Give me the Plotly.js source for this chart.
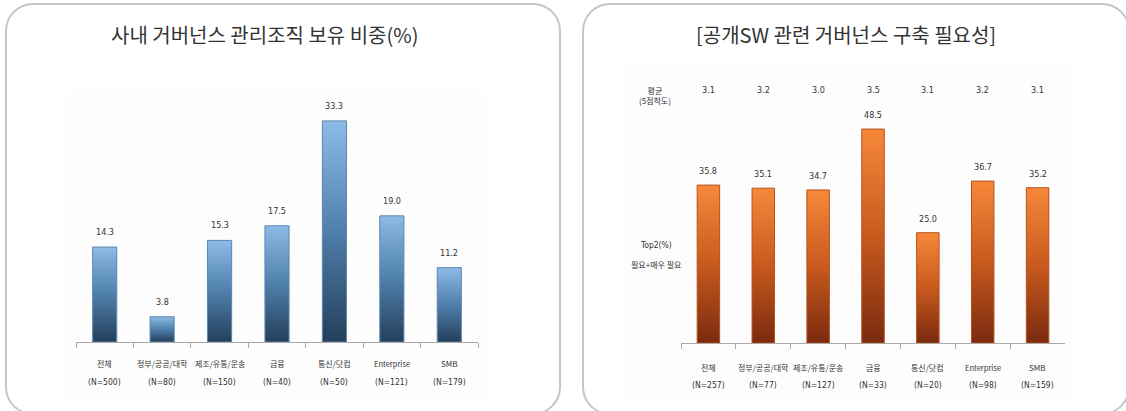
<!DOCTYPE html>
<html>
<head>
<meta charset="utf-8">
<script src="https://cdn.plot.ly/plotly-3.0.1.min.js"></script>
<style>
  html, body { margin:0; padding:0; width:1126px; height:411px; overflow:hidden; background:#ffffff; }
  .panel { position:absolute; box-sizing:border-box; border:2px solid #c6c6c6; border-radius:28px; background:#ffffff; }
  #chart { position:absolute; left:0; top:0; width:1126px; height:411px; }
</style>
</head>
<body>
<div class="panel" style="left:5px; top:3px; width:556px; height:412px;"></div>
<div class="panel" style="left:582px; top:3px; width:548px; height:412px;"></div>
<div id="chart"></div>
<script>
// ---- data ----
const categories = ['전체', '정부/공공/대학', '제조/유통/운송', '금융', '통신/닷컴', 'Enterprise', 'SMB'];
const leftN = ['(N=500)', '(N=80)', '(N=150)', '(N=40)', '(N=50)', '(N=121)', '(N=179)'];
const leftValues = [14.3, 3.8, 15.3, 17.5, 33.3, 19.0, 11.2];
const rightN = ['(N=257)', '(N=77)', '(N=127)', '(N=33)', '(N=20)', '(N=98)', '(N=159)'];
const rightValues = [35.8, 35.1, 34.7, 48.5, 25.0, 36.7, 35.2];
const rightAverages = [3.1, 3.2, 3.0, 3.5, 3.1, 3.2, 3.1];
const leftTitle = '사내 거버넌스 관리조직 보유 비중(%)';
const rightTitle = '[공개SW 관련 거버넌스 구축 필요성]';
const avgLabel = '평균<br>(5점척도)';
const top2Label = 'Top2(%)';
const top2Sub = '필요+매우 필요';

// ---- helpers ----
const W = 1126, H = 411;
const py = p => 1 - p / H;
const px = p => p / W;
const KR = '"Noto Sans CJK KR", "Noto Sans", sans-serif';
const NARROW = '"Liberation Sans Narrow", "DejaVu Sans Condensed", "Liberation Sans", sans-serif';
const fmt = v => v.toFixed(1);

const traces = [
  { type:'bar', x:categories, y:leftValues, xaxis:'x', yaxis:'y', width:0.42,
    marker:{ color:'#4f7fab', line:{ color:'#5d86ad', width:1 } }, hoverinfo:'skip' },
  { type:'bar', x:categories, y:rightValues, xaxis:'x2', yaxis:'y2', width:0.41,
    marker:{ color:'#c85a1e', line:{ color:'#b4511c', width:1 } }, hoverinfo:'skip' }
];

const annotations = [];
// titles
annotations.push({ text:leftTitle, xref:'paper', yref:'paper', x:px(264), y:py(34), xanchor:'center', yanchor:'middle',
  showarrow:false, font:{ family:KR, size:20, color:'#333333' } });
annotations.push({ text:rightTitle, xref:'paper', yref:'paper', x:px(846), y:py(34), xanchor:'center', yanchor:'middle',
  showarrow:false, font:{ family:KR, size:20, color:'#333333' } });

categories.forEach((c, i) => {
  const catSize = c === 'Enterprise' ? 7.5 : 8;
  // left value labels
  annotations.push({ text:fmt(leftValues[i]), xref:'x', yref:'y', x:c, y:leftValues[i], yshift:15,
    xanchor:'center', yanchor:'middle', showarrow:false, font:{ family:NARROW, size:9, color:'#333333' } });
  // left category labels
  annotations.push({ text:c, xref:'x', yref:'paper', x:c, y:py(363), xanchor:'center', yanchor:'middle',
    showarrow:false, font:{ family:KR, size:catSize, color:'#333333' } });
  annotations.push({ text:leftN[i], xref:'x', yref:'paper', x:c, y:py(382), xanchor:'center', yanchor:'middle',
    showarrow:false, font:{ family:NARROW, size:8.5, color:'#333333' } });
  // right value labels
  annotations.push({ text:fmt(rightValues[i]), xref:'x2', yref:'y2', x:c, y:rightValues[i], yshift:14,
    xanchor:'center', yanchor:'middle', showarrow:false, font:{ family:NARROW, size:9, color:'#333333' } });
  // right averages
  annotations.push({ text:fmt(rightAverages[i]), xref:'x2', yref:'paper', x:c, y:py(90), xanchor:'center', yanchor:'middle',
    showarrow:false, font:{ family:NARROW, size:9, color:'#333333' } });
  // right category labels
  annotations.push({ text:c, xref:'x2', yref:'paper', x:c, y:py(367), xanchor:'center', yanchor:'middle',
    showarrow:false, font:{ family:KR, size:catSize, color:'#333333' } });
  annotations.push({ text:rightN[i], xref:'x2', yref:'paper', x:c, y:py(385), xanchor:'center', yanchor:'middle',
    showarrow:false, font:{ family:NARROW, size:8.5, color:'#333333' } });
});

annotations.push({ text:avgLabel, xref:'paper', yref:'paper', x:px(655), y:py(96), xanchor:'center', yanchor:'middle',
  showarrow:false, font:{ family:KR, size:8, color:'#333333' } });
annotations.push({ text:top2Label, xref:'paper', yref:'paper', x:px(656), y:py(245), xanchor:'center', yanchor:'middle',
  showarrow:false, font:{ family:NARROW, size:8.5, color:'#333333' } });
annotations.push({ text:top2Sub, xref:'paper', yref:'paper', x:px(656), y:py(264), xanchor:'center', yanchor:'middle',
  showarrow:false, font:{ family:KR, size:8, color:'#333333' } });

const xaxisBase = {
  type:'category', showgrid:false, zeroline:false, showline:true, linecolor:'#a9a9a9', linewidth:1,
  ticks:'outside', tickson:'boundaries', ticklen:5, tickcolor:'#a9a9a9', showticklabels:false, fixedrange:true
};
const yaxisBase = { showgrid:false, zeroline:false, showline:false, showticklabels:false, ticks:'', fixedrange:true };

const layout = {
  width:W, height:H, margin:{ l:0, r:0, t:0, b:0 },
  paper_bgcolor:'rgba(0,0,0,0)', plot_bgcolor:'rgba(0,0,0,0)',
  showlegend:false, bargap:0.58,
  xaxis:Object.assign({}, xaxisBase, { domain:[px(76), px(478)], anchor:'y' }),
  yaxis:Object.assign({}, yaxisBase, { domain:[py(342), py(76.4)], range:[0, 40], anchor:'x' }),
  xaxis2:Object.assign({}, xaxisBase, { domain:[px(681), px(1065)], anchor:'y2' }),
  yaxis2:Object.assign({}, yaxisBase, { domain:[py(343), py(100.4)], range:[0, 55], anchor:'x2' }),
  shapes:[
    { type:'rect', xref:'paper', yref:'paper', x0:px(66), x1:px(486), y0:py(400), y1:py(92),
      fillcolor:'#fdfdfd', line:{ width:0 }, layer:'below' },
    { type:'rect', xref:'paper', yref:'paper', x0:px(622), x1:px(1073), y0:py(400), y1:py(63),
      fillcolor:'#fdfdfd', line:{ width:0 }, layer:'below' }
  ],
  annotations:annotations
};

Plotly.newPlot('chart', traces, layout, { displayModeBar:false, staticPlot:true }).then(gd => {
  const svg = gd.querySelector('svg.main-svg');
  const NS = 'http://www.w3.org/2000/svg';
  let defs = svg.querySelector('defs');
  if (!defs) { defs = document.createElementNS(NS, 'defs'); svg.insertBefore(defs, svg.firstChild); }
  function grad(id, stops) {
    const g = document.createElementNS(NS, 'linearGradient');
    g.setAttribute('id', id);
    g.setAttribute('x1', '0'); g.setAttribute('y1', '0'); g.setAttribute('x2', '0'); g.setAttribute('y2', '1');
    stops.forEach(s => {
      const st = document.createElementNS(NS, 'stop');
      st.setAttribute('offset', s[0]); st.setAttribute('stop-color', s[1]);
      g.appendChild(st);
    });
    defs.appendChild(g);
  }
  grad('gradBlue', [['0', '#8bbbe6'], ['0.5', '#4f7fab'], ['1', '#243f5b']]);
  grad('gradOrange', [['0', '#f7883a'], ['0.5', '#c85a1e'], ['1', '#7a2a0f']]);
  const barTraces = gd.querySelectorAll('g.barlayer g.trace.bars');
  const ids = ['gradBlue', 'gradOrange'];
  barTraces.forEach((t, i) => {
    t.querySelectorAll('g.point path').forEach(p => { p.style.fill = 'url(#' + ids[i] + ')'; });
  });
});
</script>
</body>
</html>
